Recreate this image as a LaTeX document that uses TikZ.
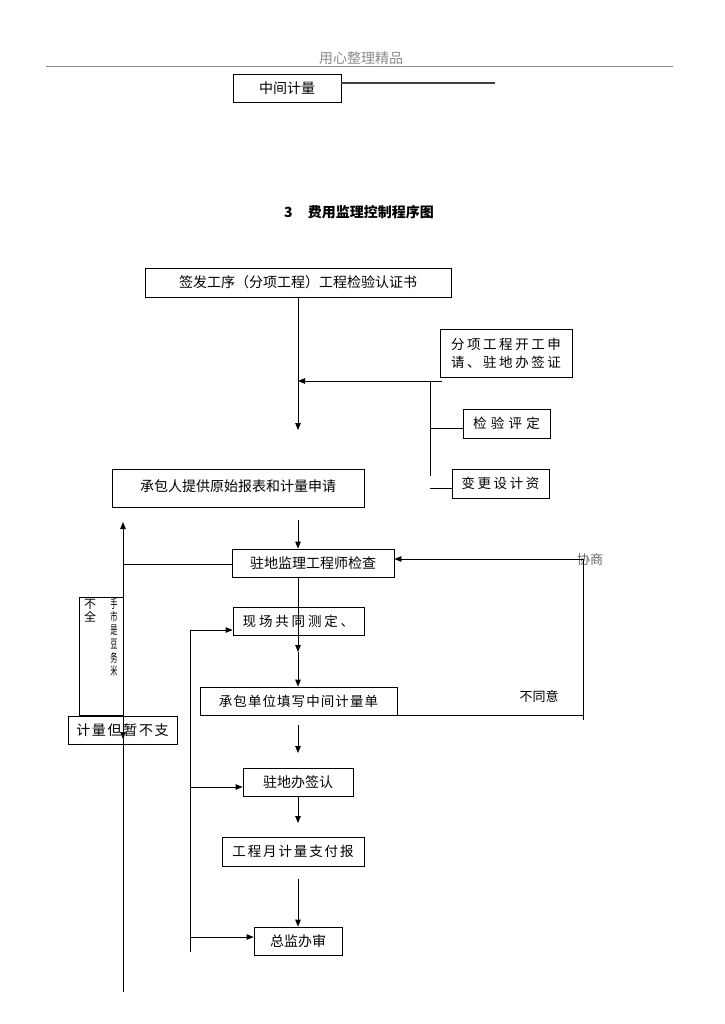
\documentclass[tikz,border=0pt]{standalone}
\usepackage{fontspec}
\setmainfont{Noto Sans CJK SC}
\usetikzlibrary{arrows.meta}
\newcommand\lsp[2]{{\addfontfeature{LetterSpace=#1}#2}}
\definecolor{hdr}{gray}{0.55}
\begin{document}
\begin{tikzpicture}[x=1pt,y=-1pt,line width=0.8pt,
  box/.style={draw,inner sep=0pt,font=\fontsize{14}{16}\selectfont},
  sbox/.style={draw,inner sep=0pt,font=\fontsize{13.5}{18}\selectfont},
  arr/.style={-{Triangle[length=7pt,width=5.5pt]}},
  lbl/.style={inner sep=0pt,font=\fontsize{13}{15}\selectfont}]
\useasboundingbox (0,0) rectangle (724,1024);
\fill[white] (0,0) rectangle (724,1024);
% header
\node[lbl,text=hdr,font=\fontsize{14}{16}\selectfont] (hd) at (361,58) {用心整理精品};
\coordinate (hl1) at (46,66); \coordinate (hl2) at (673,66);
\draw[hdr] (hl1) -- (hl2);
% top fragment
\node[box,minimum width=108pt,minimum height=28pt] (mid) at (287,88) {中间计量};
\coordinate (mide) at (495,83);
\draw[line width=1.2pt,black!75] (mid.east |- mide) -- (mide);
% title
\node[inner sep=0pt,font=\fontsize{14}{16}\selectfont\bfseries] (title) at (359,212) {3\hspace{15pt}费用监理控制程序图};
% boxes
\node[box,minimum width=306pt,minimum height=29pt] (sign) at (298,282.5) {签发工序（分项工程）工程检验认证书};
\node[sbox,minimum width=132pt,minimum height=48pt,align=center] (fxkg) at (506,353) {\lsp{19}{分项工程开工申}\\\lsp{19}{请、驻地办签证}};
\node[sbox,minimum width=87pt,minimum height=29pt] (jypd) at (506.5,423.5) {\lsp{32}{检验评定}};
\node[sbox,minimum width=97pt,minimum height=29pt] (bgsj) at (500.5,483.5) {\lsp{19}{变更设计资}};
\node[box,minimum width=252pt,minimum height=38pt] (cbr) at (238,488) {\raisebox{4pt}{承包人提供原始报表和计量申请}};
\node[box,minimum width=162pt,minimum height=28pt] (zdjl) at (313,563) {驻地监理工程师检查};
\node[sbox,minimum width=131pt,minimum height=28pt] (xcgt) at (298.5,621) {\lsp{21}{现场共同测定、}};
\node[sbox,minimum width=197pt,minimum height=28pt] (cbdw) at (298.5,701) {\lsp{8}{承包单位填写中间计量单}};
\node[box,minimum width=110pt,minimum height=28pt] (zdbqr) at (298,782) {驻地办签认};
\node[sbox,minimum width=142pt,minimum height=29pt] (gcy) at (293,851.5) {\lsp{14}{工程月计量支付报}};
\node[box,minimum width=88pt,minimum height=28pt] (zjb) at (298,941) {总监办审};
\node[draw,inner sep=0pt,minimum width=44pt,minimum height=118pt] (tall) at (101,656) {};
\node[box,minimum width=109pt,minimum height=28pt] (jldz) at (122.5,730) {\lsp{12}{计量但暂不支}};
% text in tall box
\node[inner sep=0pt,font=\fontsize{12}{12}\selectfont] (bq1) at (90,604) {不};
\node[inner sep=0pt,font=\fontsize{12}{12}\selectfont] (bq2) at (90,617) {全};
\foreach \ch [count=\i] in {手,市,是,豆,务,米}{
  \node[inner sep=0pt,font=\fontsize{12}{12}\selectfont] (vc\i) at (114,590+13.5*\i) {\scalebox{0.6}[1]{\ch}};
}
% labels
\node[lbl,text=black!60] (xs) at (590,560) {协商};
\node[lbl] (bty) at (539,697) {不同意};
% connectors: top
\coordinate (a1) at (298,430);
\draw[arr] (sign.south) -- (a1);
\coordinate (f1) at (442,381); \coordinate (f2) at (298,381);
\draw[arr] (f1) -- (f2);
\coordinate (b1) at (430,381); \coordinate (b2) at (430,476);
\draw (b1) -- (b2);
\coordinate (b3) at (430,428); \draw (b3) -- (b3 -| jypd.west);
\coordinate (b4) at (430,488); \draw (b4) -- (b4 -| bgsj.west);
% to zdjl
\coordinate (c1) at (298,520);
\draw[arr] (c1) -- (c1 |- zdjl.north);
\coordinate (l1) at (123,564);
\draw (zdjl.west |- l1) -- (l1);
\coordinate (l0) at (123,992); \coordinate (lt) at (123,522);
\draw[arr] (l0) -- (lt);
\coordinate (ld1) at (123,712); \coordinate (ld2) at (123,739);
\draw[arr] (ld1) -- (ld2);
% right loop
\coordinate (r1) at (583,559); \coordinate (r2) at (583,720);
\draw (r2) -- (r1);
\draw[arr] (r1) -- (r1 -| zdjl.east);
\draw (cbdw.south east) -- (cbdw.south east -| r1);
% main column
\coordinate (m1) at (298,652);
\draw[arr] (zdjl.south -| m1) -- (m1);
\draw[arr] (m1) -- (m1 |- cbdw.north);
\coordinate (m2) at (298,725); \coordinate (m3) at (298,753);
\draw[arr] (m2) -- (m3);
\coordinate (m4) at (298,823);
\draw[arr] (zdbqr.south) -- (m4);
\coordinate (m5) at (298,879);
\draw[arr] (m5) -- (zjb.north);
% left inner bus
\coordinate (p1) at (190,630); \coordinate (p2) at (190,952);
\coordinate (p3) at (190,787); \coordinate (p4) at (190,937);
\draw (p2) -- (p1);
\draw[arr] (p1) -- (p1 -| xcgt.west);
\draw[arr] (p3) -- (p3 -| zdbqr.west);
\draw[arr] (p4) -- (p4 -| zjb.west);
\end{tikzpicture}
\end{document}
